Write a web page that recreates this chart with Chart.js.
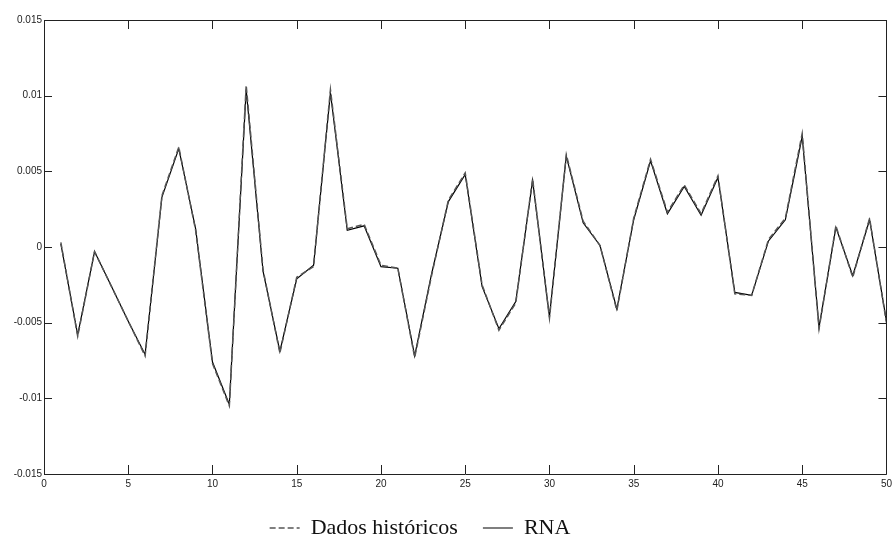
<!DOCTYPE html>
<html>
<head>
<meta charset="utf-8">
<script src="https://cdn.jsdelivr.net/npm/chart.js@4.4.0/dist/chart.umd.min.js"></script>
<style>
  html, body { margin: 0; padding: 0; background: #fff; }
  #wrap { width: 896px; height: 535px; position: relative; }
</style>
</head>
<body>
<div id="wrap"><canvas id="lineChart"></canvas></div>
<script>
// eixo x: amostras 1..50
var steps = [1, 2, 3, 4, 5, 6, 7, 8, 9, 10,
             11, 12, 13, 14, 15, 16, 17, 18, 19, 20,
             21, 22, 23, 24, 25, 26, 27, 28, 29, 30,
             31, 32, 33, 34, 35, 36, 37, 38, 39, 40,
             41, 42, 43, 44, 45, 46, 47, 48, 49, 50];

// dados históricos (tracejado)
var historico = [0.0003, -0.0059, -0.0003, -0.0026, -0.0049, -0.0072, 0.0034, 0.0066, 0.0011, -0.0077,
                 -0.0105, 0.0107, -0.0015, -0.0070, -0.0020, -0.0013, 0.0104, 0.0012, 0.0015, -0.0012,
                 -0.0014, -0.0073, -0.0019, 0.0031, 0.0049, -0.0025, -0.0055, -0.0037, 0.0045, -0.0047,
                 0.0061, 0.0017, 0.0001, -0.0042, 0.0019, 0.0058, 0.0023, 0.0041, 0.0022, 0.0047,
                 -0.0031, -0.0032, 0.0005, 0.0019, 0.0075, -0.0054, 0.0014, -0.0020, 0.0019, -0.0050];

// saída da rede neural (RNA)
var rna = [0.0002, -0.0058, -0.0003, -0.0026, -0.0049, -0.0071, 0.0033, 0.0065, 0.0012, -0.0076,
           -0.0104, 0.0104, -0.0016, -0.0069, -0.0021, -0.0012, 0.0102, 0.0011, 0.0014, -0.0013,
           -0.0014, -0.0072, -0.0018, 0.0030, 0.0048, -0.0026, -0.0054, -0.0036, 0.0044, -0.0046,
           0.0060, 0.0016, 0.0001, -0.0041, 0.0018, 0.0057, 0.0022, 0.0040, 0.0021, 0.0046,
           -0.0030, -0.0032, 0.0004, 0.0018, 0.0073, -0.0053, 0.0013, -0.0019, 0.0018, -0.0049];

var xTicks = [0, 5, 10, 15, 20, 25, 30, 35, 40, 45, 50];
var yTicks = [-0.015, -0.01, -0.005, 0, 0.005, 0.01, 0.015];

function toPoints(vals) {
    return steps.map(function (s, i) { return { x: s, y: vals[i] }; });
}

// moldura estilo matlab com marcas para dentro
var boxPlugin = {
    id: 'boxPlugin',
    afterLayout: function (chart) {
        // legenda um pouco à esquerda do centro, como no original
        chart.legend.right = chart.legend.right - 55;
        chart.legend.top = chart.legend.top - 2;
        chart.legend.bottom = chart.legend.bottom - 2;
    },
    afterDatasetsDraw: function (chart) {
        var ctx = chart.ctx;
        var a = chart.chartArea;
        var xs = chart.scales.x, ys = chart.scales.y;
        ctx.save();
        ctx.strokeStyle = '#222';
        ctx.lineWidth = 1;
        ctx.beginPath();
        ctx.rect(Math.round(a.left) + 0.5, Math.round(a.top) + 0.5,
                 Math.round(a.right - a.left), Math.round(a.bottom - a.top));
        ctx.stroke();
        ctx.beginPath();
        xs.ticks.forEach(function (t) {
            var px = Math.round(xs.getPixelForValue(t.value)) + 0.5;
            ctx.moveTo(px, a.bottom); ctx.lineTo(px, a.bottom - 9);
            ctx.moveTo(px, a.top); ctx.lineTo(px, a.top + 9);
        });
        ys.ticks.forEach(function (t) {
            var py = Math.round(ys.getPixelForValue(t.value)) + 0.5;
            ctx.moveTo(a.left, py); ctx.lineTo(a.left + 8, py);
            ctx.moveTo(a.right, py); ctx.lineTo(a.right - 8, py);
        });
        ctx.stroke();
        ctx.restore();
    }
};

var ctx = document.getElementById("lineChart").getContext("2d");
var myLineChart = new Chart(ctx, {
    type: 'line',
    data: {
        datasets: [
            {
                label: "Dados históricos",
                data: toPoints(historico),
                borderColor: "#555",
                backgroundColor: "#555",
                borderWidth: 1.5,
                borderDash: [6, 3],
                pointRadius: 0,
                tension: 0
            },
            {
                label: "RNA",
                data: toPoints(rna),
                borderColor: "#000",
                backgroundColor: "#000",
                borderWidth: 1.2,
                pointRadius: 0,
                tension: 0
            }
        ]
    },
    options: {
        responsive: true,
        maintainAspectRatio: false,
        animation: false,
        layout: { padding: { top: 20, right: 1, left: 0, bottom: -16 } },
        plugins: {
            tooltip: { enabled: false },
            legend: {
                position: 'bottom',
                labels: {
                    boxWidth: 30,
                    boxHeight: 0,
                    padding: 25,
                    color: '#111',
                    font: { family: '"Liberation Serif", "Times New Roman", serif', size: 22 }
                }
            }
        },
        scales: {
            x: {
                type: 'linear',
                min: 0,
                max: 50,
                afterBuildTicks: function (scale) {
                    scale.ticks = xTicks.map(function (v) { return { value: v }; });
                },
                grid: { display: false, tickLength: 0 },
                border: { display: false },
                ticks: {
                    padding: 4,
                    maxRotation: 0,
                    color: '#222',
                    font: { family: '"Liberation Sans", Arial, sans-serif', size: 10 }
                }
            },
            y: {
                min: -0.015,
                max: 0.015,
                afterBuildTicks: function (scale) {
                    scale.ticks = yTicks.map(function (v) { return { value: v }; });
                },
                afterFit: function (scale) { scale.width = 44; },
                grid: { display: false, tickLength: 0 },
                border: { display: false },
                ticks: {
                    padding: 2,
                    color: '#222',
                    font: { family: '"Liberation Sans", Arial, sans-serif', size: 10 },
                    callback: function (v) { return String(parseFloat(v.toFixed(4))); }
                }
            }
        }
    },
    plugins: [boxPlugin]
});
</script>
</body>
</html>
